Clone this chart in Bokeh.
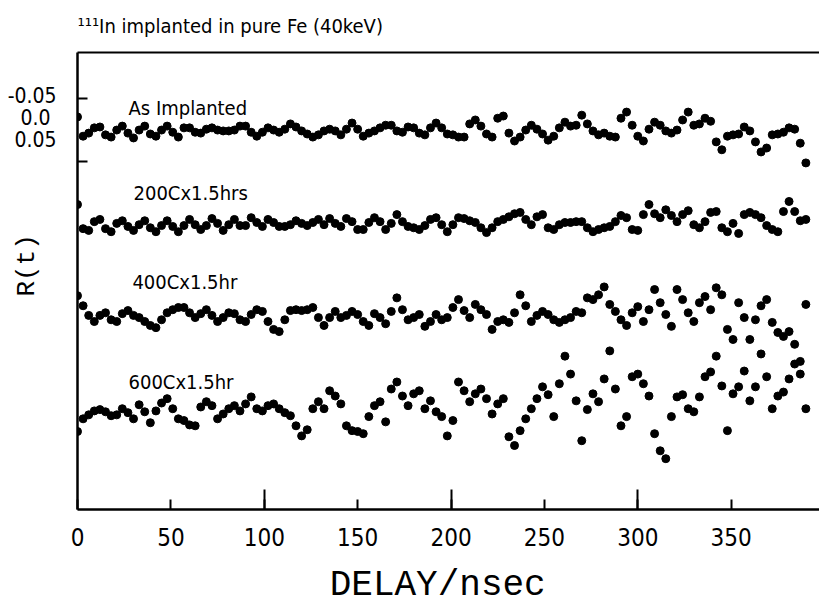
from bokeh.plotting import figure
from bokeh.models import Range1d, FixedTicker, LinearAxis, Label, ColumnDataSource
from bokeh.embed import file_html
from bokeh.resources import INLINE

# ---------------- data ----------------
DELAY_STEP_NS = 3  # channel spacing used when reading the curves
SERIES_NAMES = ["As Implanted", "200Cx1.5hrs", "400Cx1.5hr", "600Cx1.5hr"]
# vertical shift of each spectrum in R(t) units (spectra are stacked)
SERIES_OFFSET = [0.027, 0.245, 0.455, 0.670]

R_AS_IMPLANTED = [
    -0.030, 0.014, 0.007, -0.005, -0.007, 0.011, 0.016, 0.0, -0.009, 0.007,
    0.018, 0.0, -0.009, 0.009, 0.014, 0.0, -0.009, 0.005, 0.016, -0.005,
    -0.005, 0.005, 0.007, -0.002, -0.005, 0.0, 0.002, 0.002, 0.0, -0.009,
    -0.009, 0.005, 0.014, 0.005, -0.005, 0.0, 0.005, -0.002, -0.014, -0.007,
    0.002, 0.009, 0.016, 0.011, 0.002, -0.002, 0.002, 0.011, -0.002, -0.016,
    -0.002, 0.014, 0.007, 0.002, -0.005, -0.011, -0.011, 0.002, 0.005, -0.007,
    -0.005, 0.007, 0.011, -0.005, -0.016, -0.005, 0.009, 0.011, 0.016, 0.016,
    -0.014, -0.023, -0.009, 0.009, 0.016, -0.027, -0.032, 0.007, 0.025, 0.016,
    0.0, -0.011, -0.002, 0.009, 0.023, 0.014, -0.005, -0.018, -0.009, -0.011,
    -0.034, -0.014, 0.002, 0.011, 0.007, 0.014, 0.016, -0.027, -0.041, -0.011,
    0.014, 0.025, -0.002, -0.018, -0.011, 0.002, 0.007, 0.0, -0.023, -0.041,
    -0.011, -0.014, -0.027, -0.020, 0.027, 0.045, 0.014, 0.011, 0.009, -0.007,
    0.002, 0.027, 0.050, 0.041, 0.011, 0.009, 0.005, -0.005, -0.002, 0.030,
    0.075,
]
R_200C = [
    -0.048, 0.007, 0.011, -0.009, -0.014, 0.007, 0.014, -0.005, -0.011, 0.002,
    0.011, -0.002, -0.011, 0.005, 0.014, 0.0, -0.011, 0.002, 0.014, 0.0,
    -0.014, -0.002, 0.009, 0.0, -0.016, -0.005, 0.011, -0.002, -0.014, 0.0,
    0.0, -0.018, -0.007, 0.002, -0.014, -0.007, 0.002, 0.002, -0.002, -0.011,
    -0.005, 0.0, -0.007, -0.014, -0.002, -0.016, -0.005, 0.002, -0.016, -0.009,
    0.009, 0.009, -0.007, -0.018, -0.009, 0.009, -0.005, -0.025, -0.009, 0.002,
    0.005, 0.009, 0.0, -0.014, -0.018, -0.002, 0.014, -0.002, -0.018, -0.016,
    -0.011, -0.007, 0.005, 0.016, 0.005, -0.009, -0.014, -0.020, -0.027, -0.030,
    -0.014, -0.002, -0.020, -0.025, 0.005, 0.009, -0.002, -0.007, -0.007, -0.009,
    -0.009, 0.005, 0.014, 0.009, 0.005, 0.002, -0.009, -0.023, -0.018, 0.009,
    0.011, -0.025, -0.048, -0.027, -0.018, -0.036, -0.023, -0.009, -0.025, -0.034,
    -0.002, 0.005, -0.009, -0.030, -0.032, 0.005, 0.014, -0.005, 0.018, -0.025,
    -0.030, -0.025, -0.018, 0.0, 0.009, 0.014, -0.032, -0.055, -0.032, -0.011,
    -0.014,
]
R_400C = [
    -0.050, -0.027, -0.005, 0.009, -0.005, -0.011, 0.005, 0.009, -0.009, -0.016,
    -0.005, 0.0, 0.009, 0.018, 0.023, 0.005, -0.011, -0.018, -0.023, -0.023,
    -0.011, 0.0, -0.009, -0.018, -0.005, 0.009, 0.0, -0.011, -0.009, 0.005,
    0.009, -0.007, -0.018, -0.014, 0.009, 0.027, 0.032, 0.005, -0.016, -0.018,
    -0.016, -0.018, -0.023, 0.0, 0.018, 0.0, -0.014, 0.0, -0.005, -0.014,
    -0.007, 0.009, 0.018, -0.009, 0.0, 0.014, -0.014, -0.045, -0.018, 0.005,
    0.0, -0.007, 0.020, 0.009, -0.007, 0.005, 0.0, -0.023, -0.041, -0.016,
    0.0, -0.030, -0.018, -0.007, 0.027, 0.009, 0.005, 0.011, -0.011, -0.052,
    -0.027, 0.009, -0.005, -0.014, -0.007, 0.005, 0.011, 0.005, 0.0, -0.014,
    -0.011, -0.045, -0.041, -0.052, -0.070, -0.030, -0.014, 0.005, 0.018, -0.011,
    -0.025, 0.009, -0.018, -0.064, -0.034, -0.007, 0.020, -0.064, -0.041, -0.011,
    0.009, -0.034, -0.048, -0.018, -0.068, -0.052, 0.027, 0.050, -0.034, 0.0,
    0.050, 0.005, -0.027, -0.041, 0.011, 0.034, 0.043, 0.032, 0.061, 0.100,
    -0.030,
]
R_600C = [
    0.045, 0.016, 0.007, -0.002, -0.005, 0.0, 0.009, 0.007, -0.007, 0.002,
    0.016, -0.016, 0.0, 0.025, -0.002, -0.020, -0.030, -0.007, 0.016, 0.020,
    0.030, 0.032, -0.011, -0.023, -0.014, 0.016, 0.005, -0.007, -0.014, -0.002,
    -0.018, -0.034, -0.007, -0.002, -0.014, -0.018, -0.007, 0.002, 0.009, 0.032,
    0.055, 0.041, -0.007, -0.023, -0.007, -0.048, -0.036, -0.018, 0.032, 0.043,
    0.045, 0.050, 0.011, -0.014, -0.023, 0.023, -0.052, -0.068, -0.036, -0.014,
    -0.041, -0.048, -0.007, -0.025, 0.0, 0.011, 0.055, 0.020, -0.068, -0.048,
    -0.023, -0.041, -0.052, -0.030, 0.005, -0.018, -0.030, 0.057, 0.077, 0.043,
    0.016, -0.007, -0.030, -0.057, -0.039, 0.011, -0.064, -0.127, -0.086, -0.025,
    0.066, -0.005, -0.041, -0.023, -0.075, -0.139, -0.052, 0.032, 0.011, -0.080,
    -0.086, -0.064, -0.036, 0.050, 0.089, 0.107, 0.011, -0.034, -0.039, -0.007,
    0.0, -0.034, -0.080, -0.091, -0.127, -0.059, 0.043, -0.041, -0.057, -0.093,
    -0.025, -0.057, -0.132, -0.080, -0.007, -0.036, -0.045, -0.075, -0.109, -0.086,
    -0.007,
]
SERIES_R = [R_AS_IMPLANTED, R_200C, R_400C, R_600C]

X_TICKS = [0, 50, 100, 150, 200, 250, 300, 350]
X_LONG_TICKS = [100, 200, 300]
Y_TICKS = [-0.05, 0.0, 0.05]
Y_TICK_LABELS = {-0.05: "-0.05", 0.0: "0.0\u00a0", 0.05: "0.05"}
Y_INNER_MARKS = [-0.045, 0.098]

TITLE_TEXT = "\u00b9\u00b9\u00b9In implanted in pure Fe (40keV)"
X_LABEL = "DELAY/nsec\u00a0"
Y_LABEL = "\u00a0\u00a0R(t)"

NARROW = "DejaVu Sans Condensed"
MONO = "Liberation Mono"

# ---------------- figure ----------------
p = figure(width=819, height=608, output_backend="svg", toolbar_location=None,
           x_range=Range1d(0, 397.3), y_range=Range1d(0.893, -0.150),
           min_border_left=77, min_border_right=0, min_border_top=52,
           min_border_bottom=97)
p.grid.visible = False
p.outline_line_color = None
p.background_fill_color = "white"
p.border_fill_color = "white"

p.title.text = TITLE_TEXT
p.title.align = "left"
p.title.vertical_align = "top"
p.title.text_font = NARROW
p.title.text_font_size = "20px"
p.title.text_font_style = "normal"
p.title.text_color = "black"
p.title.text_line_height = 0.9
p.title.standoff = 26

xa = p.xaxis[0]
xa.ticker = FixedTicker(ticks=X_TICKS, minor_ticks=X_LONG_TICKS)
xa.axis_line_width = 2.5
xa.axis_line_color = "black"
xa.major_tick_in = 10
xa.major_tick_out = 0
xa.minor_tick_in = 20
xa.minor_tick_out = 0
xa.major_tick_line_width = 2
xa.minor_tick_line_width = 2
xa.major_tick_line_color = "black"
xa.minor_tick_line_color = "black"
xa.major_label_text_font = NARROW
xa.major_label_text_font_size = "24px"
xa.major_label_text_color = "black"
xa.major_label_standoff = 18
xa.axis_label = X_LABEL
xa.axis_label_text_font = MONO
xa.axis_label_text_font_size = "36px"
xa.axis_label_text_font_style = "normal"
xa.axis_label_text_color = "black"
xa.axis_label_text_line_height = 0.8
xa.axis_label_standoff = 16

ya = p.yaxis[0]
ya.ticker = FixedTicker(ticks=Y_TICKS, minor_ticks=Y_INNER_MARKS)
ya.major_label_overrides = Y_TICK_LABELS
ya.axis_line_width = 2.5
ya.axis_line_color = "black"
ya.major_tick_in = 0
ya.major_tick_out = 0
ya.minor_tick_in = 10
ya.minor_tick_out = 0
ya.minor_tick_line_width = 2
ya.minor_tick_line_color = "black"
ya.major_label_text_font = NARROW
ya.major_label_text_font_size = "21px"
ya.major_label_text_color = "black"
ya.major_label_standoff = 21
ya.axis_label = Y_LABEL
ya.axis_label_text_font = MONO
ya.axis_label_text_font_size = "26px"
ya.axis_label_text_font_style = "normal"
ya.axis_label_text_color = "black"
ya.axis_label_standoff = -37

top = LinearAxis(ticker=FixedTicker(ticks=[]), major_label_text_font_size="0px",
                 major_tick_out=0, major_tick_in=0, major_label_standoff=0,
                 axis_line_width=2, axis_line_color="black")
p.add_layout(top, "above")

for r_vals, off in zip(SERIES_R, SERIES_OFFSET):
    t = [DELAY_STEP_NS * i for i in range(len(r_vals))]
    y = [v + off for v in r_vals]
    src = ColumnDataSource(dict(t=t, y=y))
    p.scatter(x="t", y="y", source=src, size=8, marker="circle",
              fill_color="black", line_color="black")

# series labels (data coordinates, inside the frame)
LABEL_POS = [(27.3, -0.023), (30.0, 0.170), (29.4, 0.373), (27.3, 0.602)]
for name, (lx, ly) in zip(SERIES_NAMES, LABEL_POS):
    p.add_layout(Label(x=lx, y=ly, text=name, text_font=NARROW,
                       text_font_size="20px", text_color="black",
                       text_baseline="alphabetic", text_align="left"))

open("out.html", "w").write(file_html(p, INLINE))
